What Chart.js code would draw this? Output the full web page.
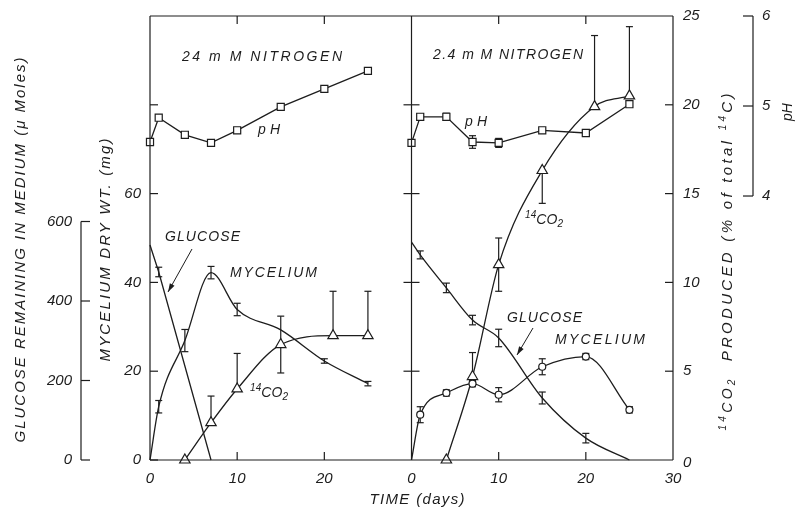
<!DOCTYPE html>
<html>
<head>
<meta charset="utf-8">
<script src="https://cdn.jsdelivr.net/npm/chart.js@4.4.1/dist/chart.umd.min.js"></script>
<style>
html,body{margin:0;padding:0;background:#fff;}
</style>
</head>
<body>
<canvas id="grafico" width="801" height="509"></canvas>
<script>
// =======================================
// DATA
// =======================================

// sampling days
const phDays  = [0, 1, 4, 7, 10, 15, 20, 25];
const myDays  = [0, 1, 4, 7, 10, 15, 20, 25];
const co2Days = [4, 7, 10, 15, 21, 25];
const gluDays24 = [0, 1, 7];
const gluDays2  = [0, 1, 4, 7, 10, 15, 20, 25];

// 24 mM nitrogen (left panel)
const ph24       = [4.60, 4.87, 4.68, 4.59, 4.73, 4.99, 5.19, 5.39];
const my24       = [0, 12.0, 26.9, 42.2, 33.9, 29.3, 22.3, 17.2];
const my24Err    = [0, 1.4, 2.5, 1.4, 1.4, 0, 0.5, 0.5];
const glu24      = [541, 473, 0];
const glu24Err   = [0, 12, 0];
const co224      = [0, 2.1, 4.0, 6.5, 7.0, 7.0];
const co224Up    = [0, 1.5, 2.0, 1.6, 2.5, 2.5];
const co224Down  = [0, 0, 0, 1.6, 0, 0];

// 2.4 mM nitrogen (right panel)
const ph2        = [4.59, 4.88, 4.88, 4.60, 4.59, 4.73, 4.70, 5.02];
const ph2Err     = [0, 0, 0.04, 0.07, 0.05, 0, 0, 0];
const my2        = [0, 10.2, 15.1, 17.2, 14.7, 21.0, 23.3, 11.3];
const my2Err     = [0, 1.8, 0.7, 0.7, 1.6, 1.8, 0.7, 0.7];
const glu2       = [548, 516, 433, 352, 307, 156, 55, 0];
const glu2Err    = [0, 10, 12, 12, 22, 15, 12, 0];
const co22       = [0, 4.7, 11.0, 16.3, 19.9, 20.5];
const co22Up     = [0, 1.35, 1.5, 0, 4.0, 3.9];
const co22Down   = [0, 0, 1.5, 1.85, 0, 0];

// axes
const panelDays   = 30;                       // each panel spans 0-30 days
const xTicks      = [0, 10, 20, 30, 40, 50, 60];
const myTicks     = [0, 20, 40, 60, 80];
const myLabels    = [0, 20, 40, 60];
const gluTicks    = [0, 200, 400, 600];
const co2Ticks    = [0, 5, 10, 15, 20, 25];
const phTicks     = [4, 5, 6];


const INK  = "#1d1d1d";
const FONT = '"Liberation Sans", Arial, sans-serif';


function pts(days, vals, off){
  return days.map((d, i) => ({x: d + off, y: vals[i]}));
}


// =======================================
// TEXT HELPERS
// =======================================

// segs: [text, size, dy]; stretched with letter spacing to a given width
function txt(ctx, segs, x, y, o){
  o = o || {};
  ctx.save();
  ctx.fillStyle = INK;
  ctx.textBaseline = "middle";
  ctx.textAlign = "left";
  let nat = 0, n = 0;
  segs.forEach(s => {
    ctx.font = "italic " + s[1] + "px " + FONT;
    ctx.letterSpacing = "0px";
    nat += ctx.measureText(s[0]).width;
    n += s[0].length;
  });
  const ls = o.width ? (o.width - nat) / Math.max(n - 1, 1) : 0;
  const total = nat + ls * (n - 1);
  ctx.translate(x, y);
  if (o.rot) ctx.rotate(o.rot);
  let cx = o.align === "center" ? -total / 2 : (o.align === "right" ? -total : 0);
  segs.forEach(s => {
    ctx.font = "italic " + s[1] + "px " + FONT;
    ctx.letterSpacing = "0px";
    const w = ctx.measureText(s[0]).width;
    ctx.letterSpacing = ls + "px";
    ctx.fillText(s[0], cx, s[2] || 0);
    cx += w + ls * s[0].length;
  });
  ctx.restore();
}

function line(ctx, x1, y1, x2, y2){
  ctx.beginPath();
  ctx.moveTo(x1, y1);
  ctx.lineTo(x2, y2);
  ctx.stroke();
}

function arrow(ctx, x1, y1, x2, y2){
  line(ctx, x1, y1, x2, y2);
  const a = Math.atan2(y2 - y1, x2 - x1);
  ctx.beginPath();
  ctx.moveTo(x2, y2);
  ctx.lineTo(x2 - 9 * Math.cos(a - 0.3), y2 - 9 * Math.sin(a - 0.3));
  ctx.lineTo(x2 - 9 * Math.cos(a + 0.3), y2 - 9 * Math.sin(a + 0.3));
  ctx.closePath();
  ctx.fill();
}

const co2Seg = [["14", 10, -5], ["CO", 14, 0], ["2", 10, 4]];


// =======================================
// PLUGINS
// =======================================

const errorBars = {
  id: "errorBars",
  beforeDatasetsDraw(chart){
    const ctx = chart.ctx;
    const sx = chart.scales.x;
    ctx.save();
    ctx.strokeStyle = INK;
    ctx.lineWidth = 1.2;
    chart.data.datasets.forEach(ds => {
      if (!ds.errUp && !ds.errDown) return;
      const sy = chart.scales[ds.yAxisID];
      ds.data.forEach((p, j) => {
        const up = ds.errUp ? ds.errUp[j] : 0;
        const dn = ds.errDown ? ds.errDown[j] : 0;
        if (!up && !dn) return;
        const x = sx.getPixelForValue(p.x);
        const yt = sy.getPixelForValue(p.y + up);
        const yb = sy.getPixelForValue(p.y - dn);
        line(ctx, x, yt, x, yb);
        if (up) line(ctx, x - 3.5, yt, x + 3.5, yt);
        if (dn) line(ctx, x - 3.5, yb, x + 3.5, yb);
      });
    });
    ctx.restore();
  }
};

const frame = {
  id: "frame",
  afterDraw(chart){
    const ctx = chart.ctx;
    const a = chart.chartArea;
    const s = chart.scales;
    const X = v => s.x.getPixelForValue(v);
    const mid = X(panelDays);

    ctx.save();
    ctx.strokeStyle = INK;
    ctx.fillStyle = INK;
    ctx.lineWidth = 1.2;

    // box and divider
    line(ctx, a.left, a.top, a.right, a.top);
    line(ctx, a.left, a.bottom, a.right, a.bottom);
    line(ctx, a.left, a.top, a.left, a.bottom);
    line(ctx, a.right, a.top, a.right, a.bottom);
    line(ctx, mid, a.top, mid, a.bottom);

    [10, 20, 40, 50].forEach(d => {
      line(ctx, X(d), a.top, X(d), a.top + 8);
      line(ctx, X(d), a.bottom, X(d), a.bottom - 8);
    });

    // mycelium axis
    myTicks.forEach(v => {
      const y = s.yM.getPixelForValue(v);
      line(ctx, a.left, y, a.left + 8, y);
      if (v > 0) line(ctx, mid - 8, y, mid + 8, y);
    });
    myLabels.forEach(v => {
      txt(ctx, [[String(v), 15, 0]], a.left - 9, s.yM.getPixelForValue(v), {align: "right"});
    });

    // glucose axis (offset to the left)
    const gx = 81;
    line(ctx, gx, s.yG.getPixelForValue(0), gx, s.yG.getPixelForValue(600));
    gluTicks.forEach(v => {
      const y = s.yG.getPixelForValue(v);
      line(ctx, gx, y, gx + 9, y);
      txt(ctx, [[String(v), 15, 0]], gx - 9, y, {align: "right"});
    });

    // 14CO2 axis (right edge)
    co2Ticks.forEach(v => {
      const y = s.yC.getPixelForValue(v);
      if (v > 0 && v < 25) line(ctx, a.right - 8, y, a.right, y);
      txt(ctx, [[String(v), 15, 0]], a.right + 10, y + (v === 0 ? 3 : 0));
    });

    // pH bracket axis
    const px = 753;
    line(ctx, px, s.yPH.getPixelForValue(4), px, s.yPH.getPixelForValue(6));
    phTicks.forEach(v => {
      const y = s.yPH.getPixelForValue(v);
      line(ctx, px - 10, y, px, y);
      txt(ctx, [[String(v), 15, 0]], px + 9, y);
    });

    // axis titles
    const up = -Math.PI / 2;
    txt(ctx, [["GLUCOSE REMAINING IN MEDIUM (\u03bc Moles)", 15, 0]], 21, 250, {rot: up, align: "center", width: 385});
    txt(ctx, [["MYCELIUM DRY WT. (mg)", 15, 0]], 106, 250, {rot: up, align: "center", width: 223});
    txt(ctx, co2Seg.concat([["  PRODUCED (% of total ", 15, 0], ["14", 10, -5], ["C)", 15, 0]]),
        728, 262, {rot: up, align: "center", width: 337});
    txt(ctx, [["pH", 14, 0]], 788, 112, {rot: up, align: "center"});
    txt(ctx, [["TIME (days)", 15, 0]], 417, 500, {align: "center", width: 95});

    // panel and curve labels
    txt(ctx, [["24 m M NITROGEN", 14, 0]], 182, 57, {width: 160});
    txt(ctx, [["2.4 m M NITROGEN", 14, 0]], 433, 55, {width: 150});
    txt(ctx, [["pH", 14, 0]], 258, 130, {width: 22});
    txt(ctx, [["pH", 14, 0]], 465, 122, {width: 22});
    txt(ctx, [["GLUCOSE", 14, 0]], 165, 237, {width: 75});
    txt(ctx, [["MYCELIUM", 14, 0]], 230, 273, {width: 87});
    txt(ctx, co2Seg, 250, 393, {width: 38});
    txt(ctx, co2Seg, 525, 220, {width: 38});
    txt(ctx, [["GLUCOSE", 14, 0]], 507, 318, {width: 75});
    txt(ctx, [["MYCELIUM", 14, 0]], 555, 340, {width: 90});

    ctx.lineWidth = 1;
    arrow(ctx, 192, 249, 168, 292);
    arrow(ctx, 533, 328, 517, 355);

    ctx.restore();
  }
};


// =======================================
// CHART
// =======================================

const base = {
  borderColor: INK,
  borderWidth: 1.3,
  backgroundColor: "#fff",
  pointBorderColor: INK,
  pointBackgroundColor: "#fff",
  pointBorderWidth: 1.2,
  pointRadius: 0,
  fill: false,
  clip: false
};

const smooth = {cubicInterpolationMode: "monotone"};

// no marker at the day-0 inoculum point of the 2.4 mM mycelium curve
const my2Radius = myDays.map(d => d === 0 ? 0 : 3.5);

new Chart(document.getElementById("grafico"), {
  type: "line",
  data: {
    datasets: [
      Object.assign({}, base, {label: "pH 24", data: pts(phDays, ph24, 0), yAxisID: "yPH",
        pointStyle: "rect", pointRadius: 5, tension: 0}),
      Object.assign({}, base, {label: "pH 2.4", data: pts(phDays, ph2, panelDays), yAxisID: "yPH",
        pointStyle: "rect", pointRadius: 5, tension: 0, errUp: ph2Err, errDown: ph2Err}),
      Object.assign({}, base, smooth, {label: "mycelium 24", data: pts(myDays, my24, 0), yAxisID: "yM",
        errUp: my24Err, errDown: my24Err}),
      Object.assign({}, base, smooth, {label: "mycelium 2.4", data: pts(myDays, my2, panelDays), yAxisID: "yM",
        pointStyle: "circle", pointRadius: my2Radius, errUp: my2Err, errDown: my2Err}),
      Object.assign({}, base, {label: "glucose 24", data: pts(gluDays24, glu24, 0), yAxisID: "yG",
        tension: 0, errUp: glu24Err, errDown: glu24Err}),
      Object.assign({}, base, smooth, {label: "glucose 2.4", data: pts(gluDays2, glu2, panelDays), yAxisID: "yG",
        errUp: glu2Err, errDown: glu2Err}),
      Object.assign({}, base, smooth, {label: "14CO2 24", data: pts(co2Days, co224, 0), yAxisID: "yC",
        pointStyle: "triangle", pointRadius: 6, errUp: co224Up, errDown: co224Down}),
      Object.assign({}, base, smooth, {label: "14CO2 2.4", data: pts(co2Days, co22, panelDays), yAxisID: "yC",
        pointStyle: "triangle", pointRadius: 6, errUp: co22Up, errDown: co22Down})
    ]
  },
  options: {
    responsive: false,
    animation: false,
    events: [],
    layout: {padding: {left: 150, right: 128, top: 16, bottom: 0}},
    plugins: {legend: {display: false}, tooltip: {enabled: false}},
    scales: {
      x: {
        type: "linear", min: 0, max: 2 * panelDays,
        afterBuildTicks: sc => { sc.ticks = xTicks.map(v => ({value: v})); },
        afterFit: sc => { sc.height = 49; },
        grid: {display: false},
        border: {display: false},
        ticks: {
          autoSkip: false, maxRotation: 0, padding: 2, color: INK,
          font: {family: FONT, style: "italic", size: 15},
          callback: v => v === 2 * panelDays ? String(panelDays) : String(v % panelDays)
        }
      },
      yM:  {display: false, min: 0, max: 100},
      yC:  {display: false, min: 0, max: 25},
      yG:  {display: false, min: 0, max: 1117},
      yPH: {display: false, min: 1.067, max: 6}
    }
  },
  plugins: [errorBars, frame]
});
</script>
</body>
</html>
